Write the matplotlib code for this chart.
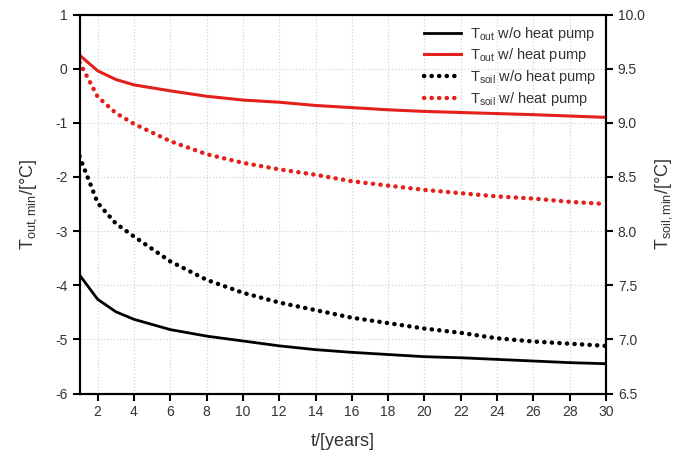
import matplotlib
matplotlib.use("Agg")
import matplotlib.pyplot as plt

# years and minimum temperatures
t = [1, 2, 3, 4, 6, 8, 10, 12, 14, 16, 18, 20, 22, 24, 26, 28, 30]
out_wo = [-3.81, -4.26, -4.49, -4.63, -4.82, -4.94, -5.03, -5.12, -5.19,
          -5.24, -5.28, -5.32, -5.34, -5.37, -5.40, -5.43, -5.45]
out_w = [0.25, -0.04, -0.20, -0.30, -0.41, -0.51, -0.58, -0.62, -0.68,
         -0.72, -0.76, -0.79, -0.81, -0.83, -0.85, -0.875, -0.90]
soil_wo = [8.69, 8.26, 8.07, 7.95, 7.72, 7.55, 7.43, 7.34, 7.27,
           7.20, 7.15, 7.10, 7.06, 7.01, 6.98, 6.96, 6.94]
soil_w = [9.56, 9.24, 9.09, 8.99, 8.83, 8.71, 8.63, 8.57, 8.52,
          8.46, 8.42, 8.38, 8.35, 8.32, 8.30, 8.27, 8.25]

left_ticks = [-6, -5, -4, -3, -2, -1, 0, 1]
right_ticks = [6.5, 7.0, 7.5, 8.0, 8.5, 9.0, 9.5, 10.0]
x_ticks = list(range(2, 31, 2))

plt.rcParams['font.family'] = ['Liberation Sans', 'DejaVu Sans']
plt.rcParams['mathtext.fontset'] = 'custom'
plt.rcParams['mathtext.rm'] = 'Liberation Sans'
plt.rcParams['mathtext.it'] = 'Liberation Sans'
plt.rcParams['axes.unicode_minus'] = False

RED = '#e3201b'
TXT = '#333333'

fig = plt.figure(figsize=(6.83, 4.59), dpi=100)
ax = fig.add_axes([0.1164, 0.1427, 0.7709, 0.8257])
ax2 = ax.twinx()

l1, = ax.plot(t, out_wo, color='black', lw=2.0, label=r'T$_{\mathrm{out}}$ w/o heat pump')
l2, = ax.plot(t, out_w, color=RED, lw=2.2, label=r'T$_{\mathrm{out}}$ w/ heat pump')
l3, = ax2.plot(t, soil_wo, color='black', lw=3.2, dash_capstyle='round',
               dashes=(0.05, 1.65), label=r'T$_{\mathrm{soil}}$ w/o heat pump')
l4, = ax2.plot(t, soil_w, color=RED, lw=3.2, dash_capstyle='round',
               dashes=(0.05, 1.65), label=r'T$_{\mathrm{soil}}$ w/ heat pump')

ax.set_xlim(1, 30)
ax.set_ylim(-6, 1)
ax2.set_ylim(6.5, 10.0)
ax.set_xticks(x_ticks)
ax.set_yticks(left_ticks)
ax2.set_yticks(right_ticks)
ax2.set_yticklabels(['%.1f' % v for v in right_ticks])

ax.grid(True, color='#d4d4d4', linestyle=':', linewidth=0.9)
ax.set_axisbelow(True)

for a in (ax, ax2):
    for s in a.spines.values():
        s.set_linewidth(1.5)
    a.tick_params(direction='out', length=5, width=1.5, labelsize=10, labelcolor=TXT)

ax.set_xlabel('t/[years]', fontsize=13, color=TXT, labelpad=10)
ax.set_ylabel(r'T$_{\mathrm{out,min}}$/[°C]', fontsize=13, color=TXT, labelpad=12)
ax2.set_ylabel(r'T$_{\mathrm{soil,min}}$/[°C]', fontsize=13, color=TXT, labelpad=6)

leg = ax2.legend(handles=[l1, l2, l3, l4], loc='upper right', frameon=False,
                 fontsize=10.5, handlelength=2.5, labelspacing=0.25,
                 borderaxespad=0.3, handletextpad=0.6)
for txt in leg.get_texts():
    txt.set_color(TXT)

fig.savefig('out.png', dpi=100)
